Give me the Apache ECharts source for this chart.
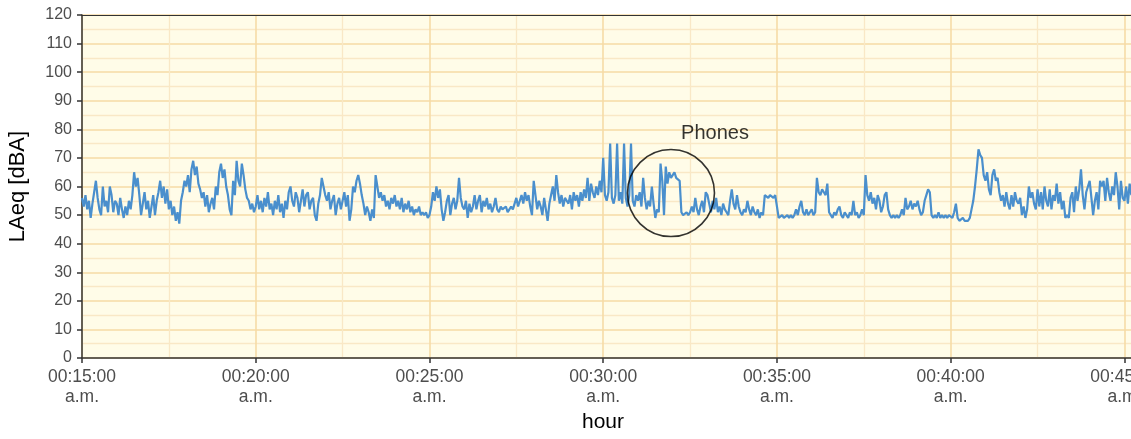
<!DOCTYPE html>
<html>
<head>
<meta charset="utf-8">
<title>LAeq</title>
<script src="https://cdn.jsdelivr.net/npm/echarts@6/dist/echarts.min.js"></script>
<style>
  html, body { margin: 0; padding: 0; background: #ffffff; }
  #chart { width: 1131px; height: 439px; }
</style>
</head>
<body>
<div id="chart"></div>
<script>
// Sound level log: one LAeq reading every 3 seconds, starting at 00:15:00
const startSec = 15 * 60;
const stepSec = 3;

// 00:15 - 00:25 (20 readings per minute)
const laeqBlockA = [
  56, 53, 57, 52, 55, 49, 54, 58, 62, 56, 52, 50, 60, 53, 55, 51, 60, 57, 51, 55,
  54, 50, 56, 52, 49, 53, 50, 55, 52, 57, 65, 60, 63, 57, 50, 54, 58, 52, 55, 49,
  53, 57, 50, 55, 58, 62, 56, 60, 54, 59, 52, 55, 50, 53, 48, 51, 47, 55, 58, 62,
  60, 64, 58, 66, 69, 64, 67, 61, 59, 56, 58, 53, 57, 51, 54, 56, 52, 60, 57, 65,
  68, 63, 66, 60, 57, 52, 50, 62, 57, 69, 62, 60, 68, 64, 59, 56, 55, 52, 54, 51,
  53, 57, 52, 55, 51, 56, 53, 58, 52, 54, 50, 55, 52, 57, 51, 54, 49, 55, 52, 58,
  60, 55, 53, 58, 56, 51, 55, 59, 53, 57, 58, 52, 55, 56, 50, 48, 54, 57, 63, 60,
  57, 55, 58, 52, 55, 57, 50, 54, 56, 52, 55, 58, 53, 57, 48, 52, 60, 58, 62, 64,
  61, 57, 54, 50, 53, 51, 48, 52, 49, 64, 60, 56, 58, 55, 57, 53, 55, 52, 56, 54,
  57, 53, 55, 52, 56, 51, 54, 52, 55, 51, 53, 50, 52, 51, 53, 50, 51, 50, 51, 49
];
// 00:25 - 00:35
const laeqBlockB = [
  50, 53, 58, 55, 60, 56, 59, 52, 48, 51, 55, 57, 50, 54, 56, 52, 55, 63, 56, 53,
  52, 55, 49, 54, 51, 53, 57, 52, 55, 57, 51, 55, 53, 56, 52, 54, 51, 53, 56, 52,
  51, 53, 52, 52, 53, 51, 52, 53, 52, 54, 56, 53, 55, 57, 54, 58, 55, 57, 53, 50,
  62, 57, 52, 55, 53, 50, 56, 52, 48, 54, 57, 60, 55, 64, 58, 54, 57, 53, 56, 55,
  54, 57, 52, 58, 55, 57, 53, 58, 55, 59, 56, 63, 55, 61, 58, 56, 60, 57, 62, 58,
  70, 57, 55, 58, 75, 56, 54, 57, 75, 55, 58, 54, 75, 56, 53, 57, 75, 55, 53, 57,
  55, 58, 53, 63, 56, 52, 55, 53, 60, 54, 49, 52, 51, 68, 62, 50, 67, 61, 65, 63,
  64, 65, 63, 63, 62, 51, 50, 50, 51, 50, 51, 53, 51, 56, 52, 50, 53, 55, 51, 58,
  57, 54, 51, 55, 52, 56, 51, 53, 50, 54, 52, 51, 50, 55, 59, 54, 52, 57, 53, 51,
  50, 52, 51, 55, 52, 50, 53, 51, 50, 52, 49, 51, 50, 57, 57, 56, 57, 57, 56, 57
];
// 00:35 - 00:45:18
const laeqBlockC = [
  57, 49, 49, 50, 49, 49, 50, 49, 50, 49, 50, 52, 50, 53, 55, 51, 50, 52, 50, 51,
  52, 50, 51, 63, 58, 57, 59, 58, 57, 61, 51, 50, 49, 51, 50, 52, 53, 50, 49, 51,
  50, 49, 51, 50, 55, 50, 51, 49, 50, 52, 50, 64, 57, 55, 58, 54, 56, 52, 57, 55,
  51, 53, 57, 58, 52, 50, 49, 50, 49, 50, 49, 50, 52, 50, 56, 52, 53, 55, 52, 54,
  53, 55, 52, 50, 51, 55, 57, 59, 58, 50, 49, 50, 49, 51, 49, 50, 49, 50, 49, 50,
  50, 49, 51, 54, 49, 48, 48, 49, 48, 48, 48, 49, 52, 55, 60, 66, 73, 71, 70, 64,
  62, 65, 59, 57, 64, 66, 62, 63, 58, 55, 57, 53, 58, 54, 52, 57, 53, 58, 55, 54,
  56, 50, 53, 49, 52, 60, 56, 58, 54, 52, 59, 53, 58, 52, 60, 55, 53, 59, 52, 57,
  55, 61, 54, 58, 52, 55, 49, 50, 49, 56, 58, 51, 60, 55, 59, 66, 57, 52, 58, 60,
  62, 56, 50, 55, 58, 52, 62, 60, 62, 55, 63, 58, 55, 60, 57, 65, 60, 52, 62, 56,
  55, 60, 54, 61, 57, 60, 55
];

// Annotation: time (s) and level at the centre of the ring
const phonesMark = [1917, 57.7];
const phonesLabel = 'Phones';

const yTicks = { min: 0, max: 120, step: 10 };
const xRange = { min: 900, max: 2720, step: 300 };

const laeq = laeqBlockA.concat(laeqBlockB, laeqBlockC);
const lineData = laeq.map((v, i) => [startSec + i * stepSec, v]);

function pad(n) { return String(n).padStart(2, '0'); }
function clockLabel(sec) {
  const h = Math.floor(sec / 3600);
  const m = Math.floor((sec % 3600) / 60);
  const s = Math.round(sec % 60);
  return pad(h) + ':' + pad(m) + ':' + pad(s) + '\na.m.';
}

const font = 'Liberation Sans, Arial, Helvetica, sans-serif';
const axisDark = '#333333';
const majorGrid = '#F6DBA6';
const minorGrid = '#F9E8C6';

const chart = echarts.init(document.getElementById('chart'), null, { renderer: 'canvas' });

chart.setOption({
  animation: false,
  backgroundColor: '#ffffff',
  grid: {
    left: 82, right: -5, top: 15, bottom: 81,
    outerBoundsMode: 'none',
    containLabel: false,
    show: true,
    backgroundColor: '#FFFCE8',
    borderWidth: 0
  },
  xAxis: [
    {
      type: 'value',
      min: xRange.min,
      max: xRange.max,
      interval: xRange.step,
      name: 'hour',
      nameLocation: 'middle',
      nameGap: 53,
      nameTextStyle: { fontFamily: font, fontSize: 21, color: '#000000', padding: [0, 12, 0, 0] },
      axisLine: { show: true, lineStyle: { color: axisDark, width: 1.5 } },
      axisTick: { show: true, length: 5, lineStyle: { color: axisDark, width: 1.5 } },
      axisLabel: {
        formatter: clockLabel,
        fontFamily: font, fontSize: 17.5, color: '#4D4D4D',
        lineHeight: 20, margin: 9,
        showMinLabel: true, showMaxLabel: false
      },
      splitLine: { show: true, lineStyle: { color: majorGrid, width: 1.6 } },
      minorTick: { show: false, splitNumber: 2 },
      minorSplitLine: { show: true, lineStyle: { color: minorGrid, width: 1.3 } }
    },
    {
      // top frame line of the panel
      type: 'value',
      position: 'top',
      min: xRange.min,
      max: xRange.max,
      axisLine: { show: true, lineStyle: { color: axisDark, width: 1.2 } },
      axisTick: { show: false },
      axisLabel: { show: false },
      splitLine: { show: false }
    }
  ],
  yAxis: {
    type: 'value',
    min: yTicks.min,
    max: yTicks.max,
    interval: yTicks.step,
    name: 'LAeq [dBA]',
    nameLocation: 'middle',
    nameGap: 53,
    nameTextStyle: { fontFamily: font, fontSize: 22, color: '#000000' },
    axisLine: { show: true, lineStyle: { color: axisDark, width: 1.5 } },
    axisTick: { show: true, length: 5, lineStyle: { color: axisDark, width: 1.5 } },
    axisLabel: { fontFamily: font, fontSize: 16, color: '#4D4D4D', margin: 10 },
    splitLine: { show: true, lineStyle: { color: majorGrid, width: 1.6 } },
    minorTick: { show: false, splitNumber: 2 },
    minorSplitLine: { show: true, lineStyle: { color: minorGrid, width: 1.3 } }
  },
  series: [
    {
      type: 'line',
      data: lineData,
      showSymbol: false,
      symbol: 'none',
      sampling: false,
      lineStyle: { color: '#4A8FCD', width: 2.2 },
      z: 3
    },
    {
      type: 'scatter',
      data: [phonesMark],
      symbol: 'circle',
      symbolSize: 87,
      silent: true,
      itemStyle: { color: 'rgba(0,0,0,0)', borderColor: '#000000', borderWidth: 1.6 },
      label: {
        show: true,
        formatter: phonesLabel,
        position: 'top',
        distance: 5,
        offset: [44, 0],
        fontFamily: font,
        fontSize: 20,
        color: '#000000'
      },
      z: 4
    }
  ]
});
</script>
</body>
</html>
